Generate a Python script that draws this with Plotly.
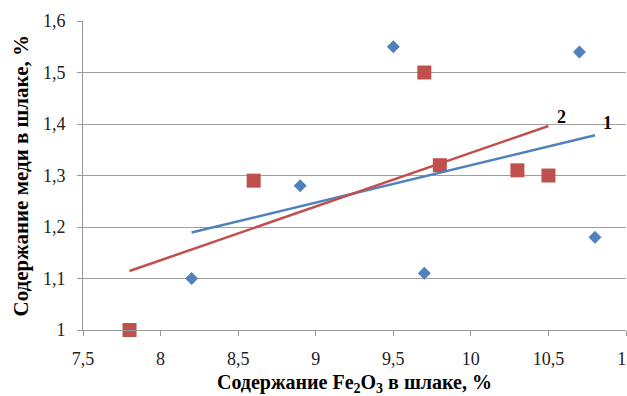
import numpy as np
import plotly.graph_objects as go

# Series 1 (blue diamonds)
x1 = [8.2, 8.9, 9.5, 9.7, 10.7, 10.8]
y1 = [1.10, 1.28, 1.55, 1.11, 1.54, 1.18]
# Series 2 (red squares)
x2 = [7.8, 8.6, 9.7, 9.8, 10.3, 10.5]
y2 = [1.00, 1.29, 1.50, 1.32, 1.31, 1.30]

x_title = "Содержание Fe<sub>2</sub>O<sub>3</sub> в шлаке, %"
y_title = "Содержание меди в шлаке, %"
line_labels = ["1", "2"]

BLUE = "#4F81BD"
RED = "#C0504D"
FONT = "Liberation Serif"


def trend(x, y):
    k, b = np.polyfit(x, y, 1)
    xs = np.array([min(x), max(x)])
    return xs, k * xs + b


t1x, t1y = trend(x1, y1)
t2x, t2y = trend(x2, y2)

fig = go.Figure()
fig.add_trace(go.Scatter(x=x1, y=y1, mode="markers", cliponaxis=False,
                         marker=dict(symbol="diamond", size=10, color=BLUE),
                         showlegend=False))
fig.add_trace(go.Scatter(x=x2, y=y2, mode="markers", cliponaxis=False,
                         marker=dict(symbol="square", size=14, color=RED),
                         showlegend=False))
fig.add_trace(go.Scatter(x=t1x, y=t1y, mode="lines",
                         line=dict(color=BLUE, width=2.5), showlegend=False))
fig.add_trace(go.Scatter(x=t2x, y=t2y, mode="lines",
                         line=dict(color=RED, width=2.5), showlegend=False))

# line number labels near trend line ends
fig.add_annotation(x=t1x[1], y=t1y[1], text="<b>" + line_labels[0] + "</b>",
                   showarrow=False, xanchor="center", yanchor="middle",
                   xshift=13, yshift=12, font=dict(family=FONT, size=18, color="black"))
fig.add_annotation(x=t2x[1], y=t2y[1], text="<b>" + line_labels[1] + "</b>",
                   showarrow=False, xanchor="center", yanchor="middle",
                   xshift=13, yshift=9, font=dict(family=FONT, size=18, color="black"))

# axis titles
fig.add_annotation(xref="paper", yref="paper", x=0.5, y=0, yshift=-53,
                   xanchor="center", yanchor="middle", showarrow=False,
                   text="<b>" + x_title + "</b>",
                   font=dict(family=FONT, size=20, color="black"))
fig.add_annotation(xref="paper", yref="paper", x=0, y=0.5, xshift=-63,
                   xanchor="center", yanchor="middle", showarrow=False,
                   textangle=-90, text="<b>" + y_title + "</b>",
                   font=dict(family=FONT, size=21, color="black"))

fig.update_layout(
    width=627, height=396,
    margin=dict(l=83, r=1, t=21, b=66),
    paper_bgcolor="white", plot_bgcolor="white",
    separators=", ",
    font=dict(family=FONT, size=18, color="#222"),
    xaxis=dict(range=[7.5, 11], dtick=0.5, tick0=7.5, showgrid=False,
               showline=True, linecolor="#999", linewidth=1,
               ticks="outside", ticklen=5, tickcolor="#999",
               tickfont=dict(family=FONT, size=18, color="#222"),
               ticklabelstandoff=7, ticklabeloverflow="allow",
               zeroline=False, automargin=False),
    yaxis=dict(range=[1, 1.6], dtick=0.1, tick0=1, showgrid=True,
               gridcolor="#A0A0A0", gridwidth=1,
               showline=True, linecolor="#999", linewidth=1,
               ticks="outside", ticklen=5, tickcolor="#999",
               tickfont=dict(family=FONT, size=18, color="#222"),
               ticklabelstandoff=8,
               zeroline=False, automargin=False),
)

fig.write_html("out.html", config={"displayModeBar": False},
               post_script="document.body.style.margin='0';")
